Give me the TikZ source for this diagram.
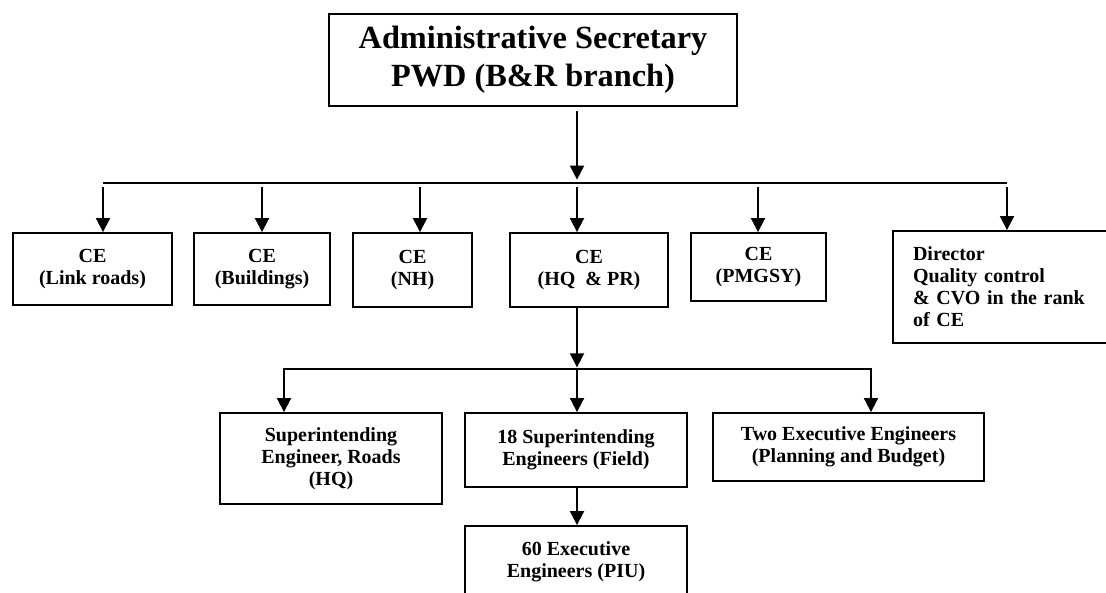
\documentclass[tikz,border=0pt]{standalone}
\usepackage{fontspec}
\setmainfont{Liberation Serif}
\usetikzlibrary{arrows.meta,shapes}
\tikzstyle{obox}=[rectangle,draw=black,line width=1.1pt,inner sep=0pt,align=center,font=\fontsize{12}{13.2}\selectfont\bfseries]
\tikzstyle{tbox}=[obox,font=\fontsize{19.4}{22.8}\selectfont\bfseries]
\tikzstyle{dgraph}=[->, line width=1.1pt]

\begin{document}
\begin{tikzpicture}[x=0.6pt,y=-0.6pt,line width=1.1pt,>={Triangle[length=8.4pt,width=8.4pt]}]
\useasboundingbox (0,0) rectangle (1106,593);
% top
\node[tbox,minimum width=244.8pt,minimum height=55.2pt] (sec) at (533,60) {Administrative Secretary\\PWD (B\&R branch)};
% chief engineers
\node[obox,minimum width=95.4pt,minimum height=43.2pt] (lnk) at (92.5,269) {CE\\(Link roads)};
\node[obox,minimum width=81.6pt,minimum height=43.2pt] (bld) at (262,269) {CE\\(Buildings)};
\node[obox,minimum width=71.4pt,minimum height=44.4pt] (nh) at (412.5,270) {CE\\(NH)};
\node[obox,minimum width=94.8pt,minimum height=44.4pt] (hq) at (589,270) {CE\\(HQ~ \& PR)};
\node[obox,minimum width=81pt,minimum height=40.8pt] (pmg) at (758.5,267) {CE\\(PMGSY)};
\node[obox,minimum width=136.2pt,minimum height=67.2pt,text width=112.2pt,align=left] (dir) at (1006.5,287) {Director\\Quality control\\\makebox[112.2pt][s]{\& CVO in the rank}\\of CE};
% under HQ
\node[obox,minimum width=133.2pt,minimum height=54.6pt] (ser) at (331,458.5) {Superintending\\Engineer, Roads\\(HQ)};
\node[obox,minimum width=133.2pt,minimum height=44.4pt] (sef) at (576,450) {18 Superintending\\Engineers (Field)};
\node[obox,minimum width=162.6pt,minimum height=40.8pt] (tee) at (848.5,447) {Two Executive Engineers\\(Planning and Budget)};
\node[obox,minimum width=133.2pt,minimum height=43.2pt] (see) at (576,562) {60 Executive\\Engineers (PIU)};
% first bus
\coordinate (b1l) at (103,183);\coordinate (b1m) at (577,183);\coordinate (b1r) at (1007,183);
\draw[dgraph,shorten <=2.4pt,shorten >=2pt] (sec.south -| b1m)--(b1m);
\draw (b1l)--(b1r);
\foreach \n/\x in {lnk/103,bld/262,nh/420,hq/577,pmg/758,dir/1007}{
  \coordinate (t\n) at (\x,183);
  \draw[dgraph,shorten <=2.4pt] (t\n)--(t\n |- \n.north);
}
% second bus
\coordinate (b2l) at (284,369);\coordinate (b2m) at (577,369);\coordinate (b2r) at (871,369);
\draw[dgraph,shorten >=1pt] (hq.south -| b2m)--(b2m);
\draw[<->] (ser.north -| b2l)--(b2l)--(b2r)--(tee.north -| b2r);
\draw[dgraph] (b2m)--(sef.north -| b2m);
\draw[dgraph] (sef.south -| b2m)--(see.north -| b2m);
\end{tikzpicture}
\end{document}
